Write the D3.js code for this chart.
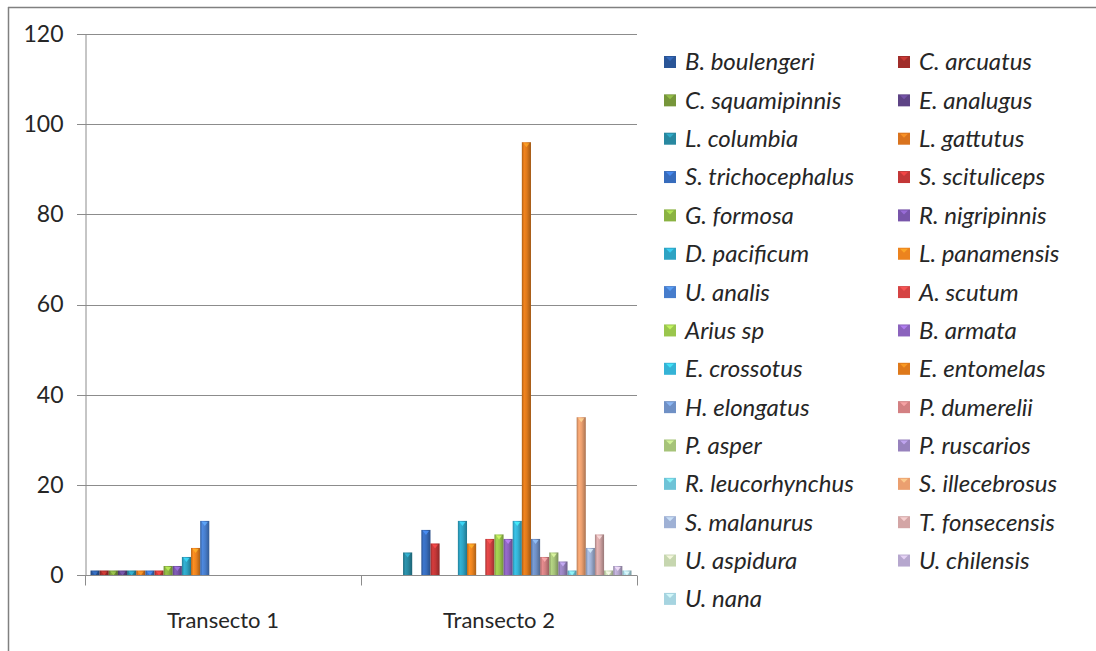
<!DOCTYPE html>
<html><head><meta charset="utf-8">
<script src="https://cdn.jsdelivr.net/npm/d3@7/dist/d3.min.js"></script>
<style>
html,body{margin:0;padding:0;background:#fff;}
svg{display:block;}
text{font-family:Lato, "Open Sans", sans-serif;fill:#262626;}
</style></head>
<body>
<svg id="chart" width="1096" height="651"></svg>
<script>
const categories = ["Transecto 1", "Transecto 2"];
const species = ["B. boulengeri","C. arcuatus","C. squamipinnis","E. analugus","L. columbia","L. gattutus","S. trichocephalus","S. scituliceps","G. formosa","R. nigripinnis","D. pacificum","L. panamensis","U. analis","A. scutum","Arius sp","B. armata","E. crossotus","E. entomelas","H. elongatus","P. dumerelii","P. asper","P. ruscarios","R. leucorhynchus","S. illecebrosus","S. malanurus","T. fonsecensis","U. aspidura","U. chilensis","U. nana"];
const transecto1 = [1,1,1,1,1,1,1,1,2,2,4,6,12,0,0,0,0,0,0,0,0,0,0,0,0,0,0,0,0];
const transecto2 = [0,0,0,0,5,0,10,7,0,0,12,7,0,8,9,8,12,96,8,4,5,3,1,35,6,9,1,2,1];
const colors = ["#2a5597","#a02d2a","#76963a","#5d4385","#2888a0","#d9731e","#376cbc","#c33737","#8ab242","#7855aa","#2ea3c3","#ec831e","#477dcc","#d54343","#9ac64d","#8b63bd","#35b3d6","#de791b","#6f90c5","#d38082","#a6c379","#9782bd","#6ec3d7","#eb9f6f","#9fb1d5","#d3a5a5","#c6d6af","#b6a7ce","#a6d4e0"];
const yTicks = [0,20,40,60,80,100,120];

const values = [transecto1, transecto2];
const svg = d3.select("#chart");
const defs = svg.append("defs");
const plot = {left:85, right:637, top:34, bottom:575};

// frame
svg.append("line").attr("x1",8).attr("x2",1096).attr("y1",7.5).attr("y2",7.5).attr("stroke","#808080").attr("stroke-width",1.5);
svg.append("line").attr("x1",8.5).attr("x2",8.5).attr("y1",7).attr("y2",651).attr("stroke","#808080").attr("stroke-width",1.5);

const x0 = d3.scaleBand().domain(categories).range([plot.left, plot.right]).padding(0);
const bw = x0.bandwidth();
const pad = bw*0.02;
const x1 = d3.scaleBand().domain(species).range([pad, bw-pad]).padding(0);
const y = d3.scaleLinear().domain([0,120]).range([plot.bottom, plot.top]);

// gridlines
svg.append("g").selectAll("line").data(yTicks).join("line")
  .attr("x1",plot.left-8).attr("x2",plot.right)
  .attr("y1",d=>Math.round(y(d))+0.5).attr("y2",d=>Math.round(y(d))+0.5)
  .attr("stroke","#8c8c8c").attr("stroke-width",1);
// y axis
const yAxis = d3.axisLeft(y).tickValues(yTicks).tickSize(0).tickPadding(22);
const gy = svg.append("g").attr("transform",`translate(${plot.left+0.5},0)`).call(yAxis);
gy.select(".domain").attr("stroke","#8c8c8c");
gy.selectAll("text").style("font-size","23px").attr("fill","#262626");

// gradients
colors.forEach((c,i)=>{
  const g = defs.append("linearGradient").attr("id","g"+i).attr("x1","0").attr("x2","1").attr("y1","0").attr("y2","0");
  const base = d3.color(c);
  g.append("stop").attr("offset","0%").attr("stop-color",base.darker(0.7));
  g.append("stop").attr("offset","25%").attr("stop-color",base.brighter(0.25));
  g.append("stop").attr("offset","55%").attr("stop-color",base);
  g.append("stop").attr("offset","100%").attr("stop-color",base.darker(0.9));
});

// bars
const groups = svg.append("g").selectAll("g").data(categories).join("g")
  .attr("transform",d=>`translate(${x0(d)},0)`);
groups.each(function(cat,ci){
  const g = d3.select(this);
  const data = species.map((s,i)=>({s,i,v:values[ci][i]})).filter(d=>d.v>0);
  g.selectAll("rect").data(data).join("rect")
    .attr("x",d=>x1(d.s)).attr("width",x1.bandwidth())
    .attr("y",d=>y(d.v)).attr("height",d=>y(0)-y(d.v))
    .attr("fill",d=>`url(#g${d.i})`);
  g.selectAll("path").data(data).join("path")
    .attr("d",d=>{const cx=x1(d.s)+x1.bandwidth()/2, ty=y(d.v)+1; return `M${cx-3},${ty}L${cx+3},${ty}L${cx},${ty+4}Z`;})
    .attr("fill",d=>d3.color(colors[d.i]).brighter(0.9)).attr("opacity",0.8);
});

// x axis
const gx = svg.append("g").attr("transform",`translate(0,${plot.bottom+0.5})`);
gx.append("line").attr("x1",plot.left).attr("x2",plot.right).attr("stroke","#8c8c8c");
const bounds = [plot.left, plot.left+bw, plot.right];
gx.selectAll(".tk").data(bounds).join("line").attr("class","tk")
  .attr("x1",d=>Math.round(d)+0.5).attr("x2",d=>Math.round(d)+0.5).attr("y1",0).attr("y2",10).attr("stroke","#8c8c8c");
svg.append("g").selectAll("text").data(categories).join("text")
  .attr("x",d=>x0(d)+bw/2).attr("y",628).attr("text-anchor","middle")
  .style("font-size","22px").text(d=>d);

// legend
const legend = svg.append("g");
const rowStep = 38.35, row0 = 62;
const items = legend.selectAll("g").data(species).join("g")
  .attr("transform",(d,i)=>`translate(${i%2===0?664:898},${row0 + Math.floor(i/2)*rowStep})`);
items.append("rect").attr("x",0).attr("y",-6).attr("width",12).attr("height",12)
  .attr("fill",(d,i)=>colors[i]);
items.append("path").attr("d","M2,-5L10,-5L6,-1Z").attr("fill",(d,i)=>d3.color(colors[i]).brighter(0.8)).attr("opacity",0.8);
items.append("text").attr("x",21).attr("y",0).attr("dy","0.35em")
  .style("font-size","24px").style("font-style","italic").text(d=>d);
</script>
</body></html>
